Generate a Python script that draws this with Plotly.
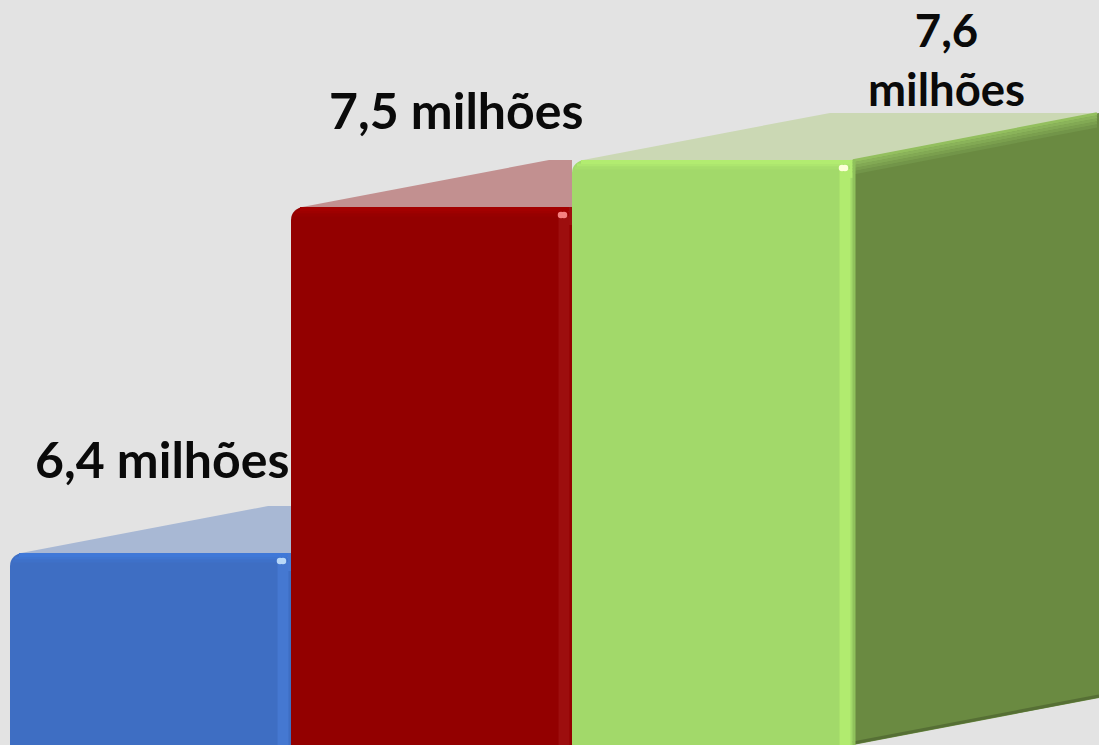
import plotly.graph_objects as go

# Data
positions = [0, 1, 2]
values = [6.4, 7.5, 7.65]   # bar heights as drawn (third is labelled 7,6)
labels = ["6,4 milhões", "7,5 milhões", "7,6<br>milhões"]

# Styles
front = ["#3e6ec3", "#930000", "#a2d96a"]
top_strip = ["#3f78d8", "#a30000", "#b2ec70"]
side_strip = ["#4679d2", "#9e0f0f", "#b2ec70"]
top_face = ["#a8b8d4", "#c29090", "#cbd8b4"]
glint = ["#b8d8f8", "#f58080", "#fcffd8"]
side_face = "#6a8a41"
side_ramp = ["#93bf5e", "#8ab35a", "#82a954", "#7a9f4e", "#729549"]
side_dark = "#566f35"
bg = "#e3e3e3"
label_sizes = [50, 50, 45.5]

# Scale: 1 x unit = 281 px, 1 y unit = 314.5 px
W, H = 1099, 745
PX, PY = 281.0, 314.5
x0 = -0.5 - 10 / PX
y0 = 6.4 - (H - 553) / PY
x_range = [x0, x0 + W / PX]
y_range = [y0, y0 + H / PY]
depth_x, depth_y = 246 / PX, 47 / PY
inset = 11 / PX

fig = go.Figure()
fig.add_trace(go.Bar(x=positions, y=values, width=1.0, marker=dict(color=front, line=dict(width=0), cornerradius=13),
                     hoverinfo="skip", showlegend=False))


def poly(xs, ys, color):
    fig.add_trace(go.Scatter(x=xs, y=ys, mode="lines", fill="toself", fillcolor=color,
                             line=dict(width=0, color=color), hoverinfo="skip", showlegend=False))


def line(xs, ys, color, width, opacity=1.0):
    fig.add_trace(go.Scatter(x=xs, y=ys, mode="lines", line=dict(color=color, width=width),
                             opacity=opacity, hoverinfo="skip", showlegend=False))


last = len(positions) - 1
for i, (p, v) in enumerate(zip(positions, values)):
    left, right = p - 0.5, p + 0.5
    back = v + depth_y
    back_left = left + inset + depth_x + 1 / PX
    # top face, cut off where the next bar's front begins
    back_right = right + depth_x if i == last else right
    poly([left + inset, back_left, back_right, right, left + inset], [v, back, back, v, v], top_face[i])
    # highlight along the top of the front, fading downwards
    line([left + 9 / PX, right], [v - 2 / PY, v - 2 / PY], top_strip[i], 4, 1.0)
    line([left + 5 / PX, right], [v - 5 / PY, v - 5 / PY], top_strip[i], 3, 0.7)
    line([left + 3 / PX, right], [v - 8 / PY, v - 8 / PY], top_strip[i], 3, 0.3)
    # highlight along the right of the front
    line([right - 8 / PX, right - 8 / PX], [v - 9 / PY, y0], side_strip[i], 11, 0.95)
    # fill the rounded corner
    line([right - 1.5 / PX, right - 1.5 / PX], [v, v - 18 / PY], side_strip[i], 3)
    # glint
    fig.add_trace(go.Scatter(x=[right - 11 / PX, right - 8 / PX], y=[v - 8 / PY, v - 8 / PY], mode="markers",
                             marker=dict(color=glint[i], size=6.5, symbol="circle", line=dict(width=0)),
                             hoverinfo="skip", showlegend=False))

# side face of the last bar
p, v = positions[last], values[last]
right = p + 0.5
poly([right, right + depth_x, right + depth_x, right, right],
     [v, v + depth_y, y0 + depth_y, y0, v], side_face)
for k, c in enumerate(side_ramp):
    off = (1 + 3 * k) / PY
    line([right, right + depth_x - 2 / PX], [v - off, v + depth_y - off], c, 3.2)
line([right, right + depth_x], [y0 + 2 / PY, y0 + depth_y + 2 / PY], side_dark, 3)
line([right + 1 / PX, right + 1 / PX], [v, y0], "#8fc25c", 3)

# labels, placed relative to their bars
label_x = [0.041, 1.087, 2.834]
label_y = [6.4 + 94 / PY, 7.5 + 97 / PY, 7.65 + 101 / PY]
annotations = [
    dict(x=x, y=y, text=t, showarrow=False, xanchor="center", yanchor="middle",
         font=dict(family="Lato", size=s, color="#0a0a0a", weight="bold"), align="center")
    for x, y, t, s in zip(label_x, label_y, labels, label_sizes)
]

fig.update_layout(
    width=W, height=H, margin=dict(l=0, r=0, t=0, b=0),
    paper_bgcolor=bg, plot_bgcolor=bg, showlegend=False, barmode="overlay",
    xaxis=dict(range=x_range, visible=False, fixedrange=True),
    yaxis=dict(range=y_range, visible=False, fixedrange=True),
    annotations=annotations,
)
fig.write_html("out.html", config={"displayModeBar": False},
               post_script="document.body.style.margin='0';document.documentElement.style.overflow='hidden';")
